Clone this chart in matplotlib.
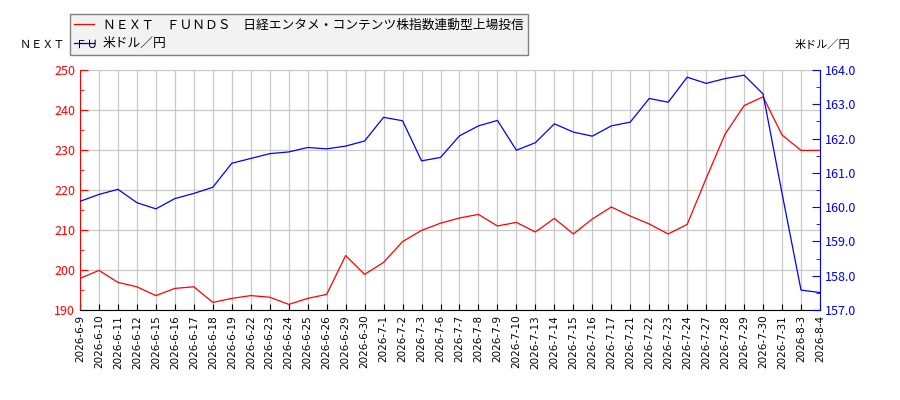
import matplotlib
matplotlib.use("Agg")
import matplotlib.pyplot as plt
from matplotlib.ticker import MultipleLocator, FormatStrFormatter
from matplotlib.transforms import Bbox

plt.rcParams['font.family'] = ['Noto Sans CJK JP', 'DejaVu Sans']

dates = ["2026-6-9", "2026-6-10", "2026-6-11", "2026-6-12", "2026-6-15", "2026-6-16",
         "2026-6-17", "2026-6-18", "2026-6-19", "2026-6-22", "2026-6-23", "2026-6-24",
         "2026-6-25", "2026-6-26", "2026-6-29", "2026-6-30", "2026-7-1", "2026-7-2",
         "2026-7-3", "2026-7-6", "2026-7-7", "2026-7-8", "2026-7-9", "2026-7-10",
         "2026-7-13", "2026-7-14", "2026-7-15", "2026-7-16", "2026-7-17", "2026-7-21",
         "2026-7-22", "2026-7-23", "2026-7-24", "2026-7-27", "2026-7-28", "2026-7-29",
         "2026-7-30", "2026-7-31", "2026-8-3", "2026-8-4"]

fund = [197.9, 199.9, 196.9, 195.8, 193.6, 195.4, 195.8, 191.9, 192.9, 193.6,
        193.2, 191.4, 192.9, 193.9, 203.6, 198.9, 201.9, 207.1, 209.9, 211.7,
        213.0, 213.9, 211.0, 211.9, 209.5, 212.9, 209.0, 212.75, 215.75, 213.5,
        211.5, 209.0, 211.4, 222.9, 234.0, 241.1, 243.3, 233.75, 229.9, 229.9]

usdjpy = [160.17, 160.37, 160.52, 160.13, 159.95, 160.25, 160.40, 160.58, 161.28, 161.42,
          161.56, 161.61, 161.74, 161.70, 161.78, 161.93, 162.62, 162.52, 161.35, 161.45,
          162.08, 162.37, 162.53, 161.66, 161.88, 162.43, 162.19, 162.07, 162.37, 162.48,
          163.17, 163.06, 163.79, 163.61, 163.75, 163.85, 163.30, 160.40, 157.58, 157.51]

fund_name = "ＮＥＸＴ　ＦＵＮＤＳ　日経エンタメ・コンテンツ株指数連動型上場投信"
fx_name = "米ドル／円"

fig = plt.figure(figsize=(9, 4), dpi=100)
ax1 = fig.add_axes([80 / 900, 90 / 400, 740 / 900, 240 / 400])
ax2 = ax1.twinx()

x = list(range(len(dates)))
l1, = ax1.plot(x, fund, color="red", linewidth=0.9)
l2, = ax2.plot(x, usdjpy, color="blue", linewidth=0.9)

ax1.set_xlim(0, len(dates) - 1)
ax1.set_ylim(190, 250)
ax2.set_ylim(157, 164)
ax1.yaxis.set_major_locator(MultipleLocator(10))
ax1.yaxis.set_minor_locator(MultipleLocator(5))
ax2.yaxis.set_major_locator(MultipleLocator(1))
ax2.yaxis.set_minor_locator(MultipleLocator(0.5))
ax2.yaxis.set_major_formatter(FormatStrFormatter("%.1f"))

ax1.set_xticks(x)
ax1.set_xticklabels(dates, rotation=90, fontsize=7.5, family="DejaVu Sans")
ax1.grid(True, color="#c8c8c8", linewidth=0.9)
ax1.set_axisbelow(True)

ax1.tick_params(axis="y", which="both", colors="red", direction="in", labelsize=9)
ax1.tick_params(axis="y", which="major", length=6)
ax1.tick_params(axis="y", which="minor", length=3)
ax2.tick_params(axis="y", which="both", colors="blue", direction="in", labelsize=9)
ax2.tick_params(axis="y", which="major", length=6)
ax2.tick_params(axis="y", which="minor", length=3)
ax1.tick_params(axis="x", direction="in", length=4, color="black")

for a in (ax1, ax2):
    a.spines["top"].set_visible(False)
ax1.spines["left"].set_color("red")
ax2.spines["left"].set_visible(False)
ax2.spines["right"].set_color("blue")
ax1.spines["right"].set_visible(False)
ax2.spines["bottom"].set_visible(False)

# axis labels at the top corners (the left one sits partly under the legend)
lab = fig.text(20 / 900, 1 - 45 / 400, fund_name, fontsize=8, va="center", ha="left", zorder=10)
lab.set_clip_box(Bbox.from_extents(0, 0, 98, 400))
lab.set_clip_on(True)
fig.text(850 / 900, 1 - 45 / 400, fx_name, fontsize=8, va="center", ha="right")

leg = fig.legend([l1, l2], [fund_name, fx_name], loc="upper left",
                 bbox_to_anchor=(70 / 900, 1 - 14 / 400), fontsize=9.2,
                 fancybox=False, framealpha=1, facecolor="#f2f2f2",
                 edgecolor="#808080", handlelength=1.5, handletextpad=0.7,
                 borderpad=0.35, borderaxespad=0, labelspacing=0.45)
leg.set_zorder(5)

fig.savefig("out.png", dpi=100)
